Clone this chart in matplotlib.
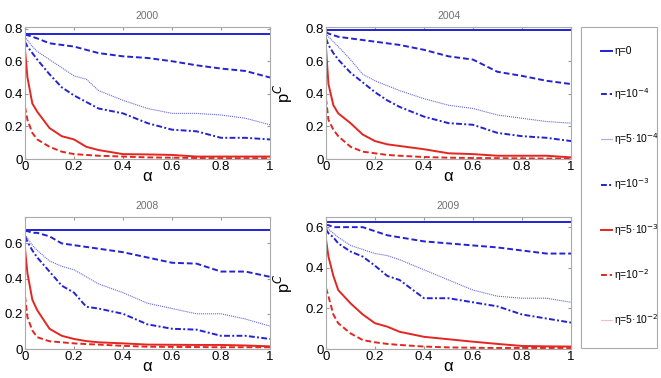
import numpy as np
import matplotlib
matplotlib.use('Agg')
import matplotlib.pyplot as plt

plt.rcParams['font.family'] = ['Liberation Sans', 'DejaVu Sans']

# -----------------------------------------------------------------------------
# data (alpha grid shared by all curves)
ALPHA = [0, 0.01, 0.03, 0.05, 0.1, 0.15, 0.2, 0.25, 0.3, 0.4, 0.5, 0.6, 0.7,
         0.8, 0.9, 1.0]

YEARS = ['2000', '2004', '2008', '2009']
YMAX = [0.81, 0.81, 0.75, 0.65]

ETA_LABELS = ['η=0', 'η=10$^{-4}$', 'η=5·10$^{-4}$', 'η=10$^{-3}$',
              'η=5·10$^{-3}$', 'η=10$^{-2}$', 'η=5·10$^{-2}$']

# eta = 0 is flat
flat_level = [0.77, 0.79, 0.676, 0.623]

eta_1e4 = [
    [0.76, 0.76, 0.75, 0.74, 0.71, 0.70, 0.69, 0.67, 0.65, 0.63, 0.62, 0.60, 0.575, 0.555, 0.54, 0.50],
    [0.78, 0.77, 0.76, 0.75, 0.74, 0.73, 0.72, 0.71, 0.70, 0.67, 0.63, 0.61, 0.535, 0.51, 0.48, 0.46],
    [0.67, 0.67, 0.66, 0.66, 0.64, 0.60, 0.59, 0.58, 0.57, 0.55, 0.52, 0.49, 0.485, 0.44, 0.44, 0.41],
    [0.61, 0.61, 0.60, 0.60, 0.60, 0.60, 0.58, 0.56, 0.55, 0.53, 0.52, 0.51, 0.50, 0.485, 0.47, 0.47],
]
eta_5e4 = [
    [0.75, 0.73, 0.69, 0.66, 0.61, 0.56, 0.51, 0.49, 0.42, 0.36, 0.31, 0.28, 0.28, 0.27, 0.25, 0.21],
    [0.77, 0.75, 0.72, 0.69, 0.61, 0.52, 0.48, 0.45, 0.42, 0.37, 0.33, 0.31, 0.27, 0.25, 0.23, 0.22],
    [0.65, 0.63, 0.59, 0.56, 0.50, 0.47, 0.45, 0.41, 0.37, 0.32, 0.26, 0.23, 0.20, 0.20, 0.17, 0.13],
    [0.60, 0.59, 0.57, 0.55, 0.51, 0.49, 0.47, 0.46, 0.44, 0.39, 0.34, 0.29, 0.26, 0.25, 0.25, 0.23],
]
eta_1e3 = [
    [0.72, 0.69, 0.65, 0.61, 0.52, 0.44, 0.39, 0.35, 0.31, 0.28, 0.22, 0.18, 0.17, 0.13, 0.13, 0.12],
    [0.74, 0.70, 0.65, 0.61, 0.53, 0.47, 0.41, 0.36, 0.32, 0.26, 0.22, 0.21, 0.16, 0.14, 0.13, 0.11],
    [0.64, 0.61, 0.56, 0.52, 0.44, 0.36, 0.32, 0.24, 0.23, 0.20, 0.14, 0.115, 0.11, 0.075, 0.075, 0.057],
    [0.59, 0.57, 0.55, 0.52, 0.48, 0.455, 0.41, 0.36, 0.34, 0.25, 0.25, 0.23, 0.21, 0.17, 0.15, 0.13],
]
eta_5e3 = [
    [0.67, 0.50, 0.34, 0.29, 0.19, 0.14, 0.12, 0.075, 0.055, 0.03, 0.028, 0.025, 0.015, 0.015, 0.015, 0.015],
    [0.68, 0.46, 0.33, 0.28, 0.22, 0.15, 0.11, 0.09, 0.08, 0.06, 0.035, 0.03, 0.02, 0.02, 0.02, 0.01],
    [0.57, 0.43, 0.28, 0.22, 0.115, 0.075, 0.057, 0.045, 0.038, 0.032, 0.025, 0.024, 0.023, 0.023, 0.02, 0.015],
    [0.54, 0.455, 0.36, 0.29, 0.225, 0.17, 0.127, 0.11, 0.085, 0.06, 0.048, 0.036, 0.025, 0.015, 0.013, 0.012],
]
eta_1e2 = [
    [0.32, 0.24, 0.16, 0.12, 0.075, 0.045, 0.03, 0.025, 0.02, 0.015, 0.01, 0.008, 0.006, 0.005, 0.005, 0.005],
    [0.37, 0.24, 0.18, 0.14, 0.075, 0.045, 0.035, 0.025, 0.02, 0.012, 0.008, 0.006, 0.005, 0.004, 0.003, 0.003],
    [0.30, 0.18, 0.105, 0.067, 0.044, 0.038, 0.032, 0.028, 0.025, 0.018, 0.013, 0.012, 0.011, 0.01, 0.01, 0.01],
    [0.30, 0.26, 0.17, 0.127, 0.077, 0.044, 0.033, 0.025, 0.02, 0.012, 0.008, 0.006, 0.005, 0.005, 0.005, 0.005],
]
eta_5e2 = [0.002] * len(ALPHA)

BLUE = '#2323d2'
RED = '#e32620'
STYLES = [
    dict(color=BLUE, ls='-', lw=1.4),
    dict(color=BLUE, ls=(0, (3, 1.5)), lw=1.4),
    dict(color='#6a6ad8', ls=(0, (1, 0.8)), lw=0.8),
    dict(color=BLUE, ls=(0, (3, 1.2, 1, 1.2)), lw=1.4),
    dict(color=RED, ls='-', lw=1.4),
    dict(color=RED, ls=(0, (3, 1.5)), lw=1.4),
    dict(color='#ee8a8a', ls=(0, (1, 0.8)), lw=0.8),
]

# -----------------------------------------------------------------------------

fig = plt.figure(figsize=(6.61, 3.78), dpi=100)

W, H = 661.0, 378.0
boxes = [(25, 27), (326, 27), (25, 217), (326, 217)]  # left, top in px

handles = []
for i, year in enumerate(YEARS):
    left, top = boxes[i]
    ax = fig.add_axes([left / W, 1 - (top + 132) / H, 245 / W, 132 / H])
    series = [[flat_level[i]] * len(ALPHA), eta_1e4[i], eta_5e4[i],
              eta_1e3[i], eta_5e3[i], eta_1e2[i], eta_5e2]
    lines = []
    for s, st in zip(series, STYLES):
        ln, = ax.plot(ALPHA, s, **st)
        lines.append(ln)
    if i == 0:
        handles = lines

    ax.set_xlim(0, 1)
    ax.set_ylim(0, YMAX[i])
    ax.set_xticks([0, 0.2, 0.4, 0.6, 0.8, 1])
    ax.set_xticklabels(['0', '0.2', '0.4', '0.6', '0.8', '1'])
    yt = [t for t in [0, 0.2, 0.4, 0.6, 0.8] if t <= YMAX[i]]
    ax.set_yticks(yt)
    ax.set_yticklabels(['0' if t == 0 else '%.1f' % t for t in yt])
    ax.tick_params(direction='in', length=2.5, labelsize=9.5, pad=1.5,
                   top=True, right=True, color='#999999')
    for sp in ax.spines.values():
        sp.set_color('#aaaaaa')
        sp.set_linewidth(0.8)
    ax.set_title(year, fontsize=7.5, color='#707070', pad=6)
    ax.set_xlabel('α', fontsize=12, labelpad=-3)
    ax.set_ylabel('p$^C$', fontsize=12)
    ax.yaxis.set_label_coords(-0.125, 0.5)

leg = fig.legend(handles, ETA_LABELS, loc='upper left',
                 bbox_to_anchor=(581 / W, 1 - 27 / H, 76 / W, 0.001),
                 mode='expand', fontsize=7.5, labelspacing=2.83,
                 borderpad=1.9, handlelength=1.1, handletextpad=0.2,
                 borderaxespad=0, fancybox=False, framealpha=1)
leg.get_frame().set_edgecolor('#aaaaaa')
leg.get_frame().set_linewidth(0.8)

fig.savefig('out.png', dpi=100)
